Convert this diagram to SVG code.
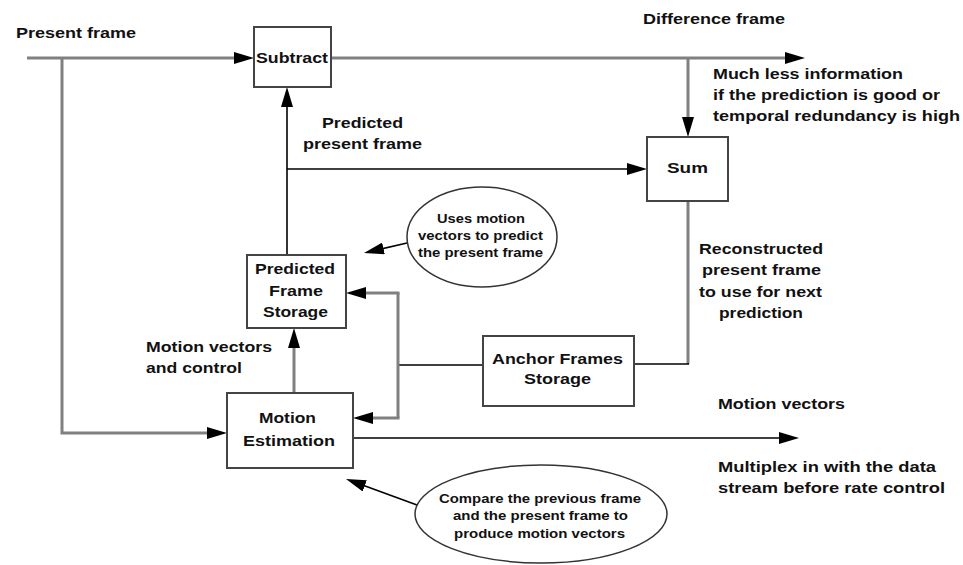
<svg xmlns="http://www.w3.org/2000/svg" width="963" height="565" viewBox="0 0 963 565">
  <style>
    text { font-family: "Liberation Sans", Arial, Helvetica, sans-serif; font-weight: bold; fill: #111; }
    .lbl { font-size: 15px; }
    .note { font-size: 12.5px; }
    .box { fill: #fff; stroke: #444; stroke-width: 2; }
    .oval { fill: #fff; stroke: #333; stroke-width: 1.5; }
    .thick { fill: none; stroke: #808080; stroke-width: 3; }
    .thin { fill: none; stroke: #000; stroke-width: 1.6; }
  </style>
  <defs>
    <marker id="arrow" markerUnits="userSpaceOnUse" markerWidth="20" markerHeight="12" refX="12" refY="6" orient="auto">
      <path d="M0,0 L20,6 L0,12 z" fill="#000"/>
    </marker>
  </defs>

  <rect width="963" height="565" fill="#fff"/>

  <!-- connectors -->
  <g id="connectors">
    <path class="thick" d="M27,58 H246" marker-end="url(#arrow)"/>
    <path class="thick" d="M62,58 V433 H219" marker-end="url(#arrow)"/>
    <path class="thick" d="M331,58 H797" marker-end="url(#arrow)"/>
    <path class="thick" d="M688,58 V129" marker-end="url(#arrow)"/>
    <path class="thin" d="M287,255 V95" marker-end="url(#arrow)"/>
    <path class="thin" d="M287,169 H639" marker-end="url(#arrow)"/>
    <path class="thick" d="M688,201 V364"/>
    <path class="thin" d="M689,364 H634"/>
    <path class="thin" d="M483,365 H398"/>
    <path class="thick" d="M398,293 V418"/>
    <path class="thick" d="M399.5,293 H354" marker-end="url(#arrow)"/>
    <path class="thick" d="M399.5,418 H361" marker-end="url(#arrow)"/>
    <path class="thick" d="M294,393 V336" marker-end="url(#arrow)"/>
    <path class="thin" d="M353,438 H791" marker-end="url(#arrow)"/>
    <path class="thin" d="M407,243 L371.8,251.1" marker-end="url(#arrow)"/>
    <path class="thin" d="M417,505 L353.5,481.8" marker-end="url(#arrow)"/>
  </g>

  <!-- free labels -->
  <g id="labels">
    <text class="lbl" x="16" y="38" textLength="120" lengthAdjust="spacingAndGlyphs">Present frame</text>
    <text class="lbl" x="643" y="24" textLength="142" lengthAdjust="spacingAndGlyphs">Difference frame</text>
    <text class="lbl" x="322" y="128" textLength="81" lengthAdjust="spacingAndGlyphs">Predicted</text>
    <text class="lbl" x="303" y="149" textLength="119" lengthAdjust="spacingAndGlyphs">present frame</text>
    <text class="lbl" x="713" y="79" textLength="190" lengthAdjust="spacingAndGlyphs">Much less information</text>
    <text class="lbl" x="713" y="100" textLength="227" lengthAdjust="spacingAndGlyphs">if the prediction is good or</text>
    <text class="lbl" x="713" y="121" textLength="247" lengthAdjust="spacingAndGlyphs">temporal redundancy is high</text>
    <text class="lbl" x="699" y="254" textLength="124" lengthAdjust="spacingAndGlyphs">Reconstructed</text>
    <text class="lbl" x="702" y="275" textLength="119" lengthAdjust="spacingAndGlyphs">present frame</text>
    <text class="lbl" x="699" y="297" textLength="123" lengthAdjust="spacingAndGlyphs">to use for next</text>
    <text class="lbl" x="719" y="318" textLength="84" lengthAdjust="spacingAndGlyphs">prediction</text>
    <text class="lbl" x="146" y="352" textLength="126" lengthAdjust="spacingAndGlyphs">Motion vectors</text>
    <text class="lbl" x="146" y="373" textLength="96" lengthAdjust="spacingAndGlyphs">and control</text>
    <text class="lbl" x="718" y="409" textLength="127" lengthAdjust="spacingAndGlyphs">Motion vectors</text>
    <text class="lbl" x="718" y="472" textLength="218" lengthAdjust="spacingAndGlyphs">Multiplex in with the data</text>
    <text class="lbl" x="718" y="493" textLength="227" lengthAdjust="spacingAndGlyphs">stream before rate control</text>
  </g>

  <!-- nodes -->
  <g id="subtract">
    <rect class="box" x="254" y="27" width="77" height="60" stroke="#666"/>
    <text class="lbl" x="256" y="63" textLength="72" lengthAdjust="spacingAndGlyphs">Subtract</text>
  </g>

  <g id="sum">
    <rect class="box" x="647" y="137" width="81" height="64" stroke="#666"/>
    <text class="lbl" x="667" y="173" textLength="41" lengthAdjust="spacingAndGlyphs">Sum</text>
  </g>

  <g id="predicted-frame-storage">
    <rect class="box" x="247" y="255" width="99" height="73" stroke="#222"/>
    <text class="lbl" x="255" y="274" textLength="80" lengthAdjust="spacingAndGlyphs">Predicted</text>
    <text class="lbl" x="269" y="296" textLength="54" lengthAdjust="spacingAndGlyphs">Frame</text>
    <text class="lbl" x="263" y="317" textLength="65" lengthAdjust="spacingAndGlyphs">Storage</text>
  </g>

  <g id="anchor-frames-storage">
    <rect class="box" x="483" y="336" width="151" height="70"/>
    <text class="lbl" x="492" y="364" textLength="131" lengthAdjust="spacingAndGlyphs">Anchor Frames</text>
    <text class="lbl" x="524" y="384" textLength="67" lengthAdjust="spacingAndGlyphs">Storage</text>
  </g>

  <g id="motion-estimation">
    <rect class="box" x="227" y="393" width="126" height="75"/>
    <text class="lbl" x="259" y="423" textLength="57" lengthAdjust="spacingAndGlyphs">Motion</text>
    <text class="lbl" x="243" y="446" textLength="92" lengthAdjust="spacingAndGlyphs">Estimation</text>
  </g>

  <g id="note-prediction">
    <ellipse class="oval" cx="482" cy="237" rx="75" ry="50"/>
    <text class="note" x="437" y="223" textLength="88" lengthAdjust="spacingAndGlyphs">Uses motion</text>
    <text class="note" x="418" y="240" textLength="125" lengthAdjust="spacingAndGlyphs">vectors to predict</text>
    <text class="note" x="418" y="257" textLength="125" lengthAdjust="spacingAndGlyphs">the present frame</text>
  </g>

  <g id="note-estimation">
    <ellipse class="oval" cx="541" cy="514" rx="126" ry="49"/>
    <text class="note" x="439" y="503" textLength="202" lengthAdjust="spacingAndGlyphs">Compare the previous frame</text>
    <text class="note" x="453" y="520" textLength="175" lengthAdjust="spacingAndGlyphs">and the present frame to</text>
    <text class="note" x="454" y="538" textLength="171" lengthAdjust="spacingAndGlyphs">produce motion vectors</text>
  </g>
</svg>
